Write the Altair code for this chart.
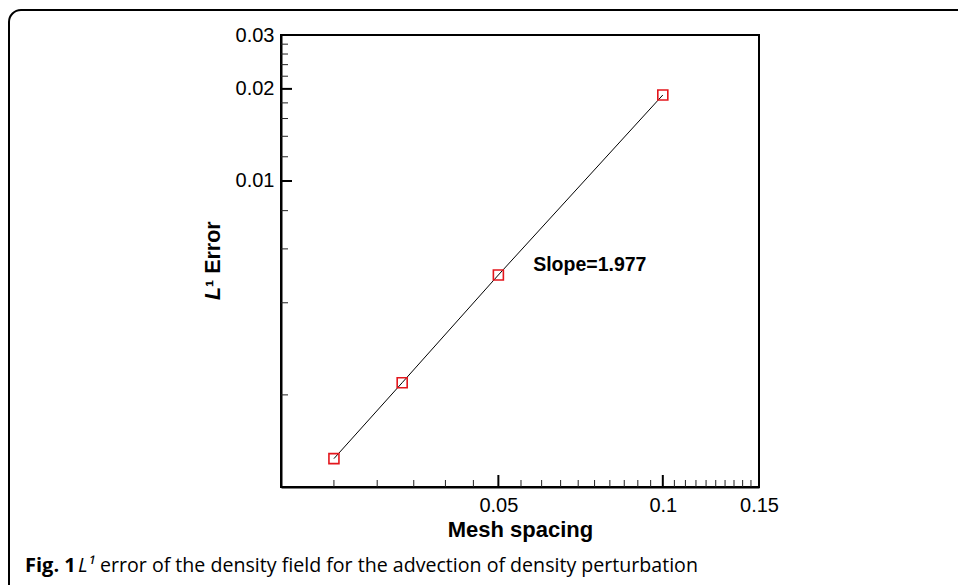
import altair as alt
import pandas as pd

# ---- data ----
mesh_spacing = [0.025, 1 / 30, 0.05, 0.1]
l1_error = [0.001238, 0.002192, 0.00493, 0.0191]

x_major_ticks = [0.05, 0.1]
x_minor_ticks = [0.025, 0.03, 0.035, 0.04, 0.045,
                 0.055, 0.06, 0.065, 0.07, 0.075, 0.08, 0.085, 0.09, 0.095,
                 0.105, 0.11, 0.115, 0.12, 0.125, 0.13, 0.135, 0.14, 0.145]
x_labels = [0.05, 0.1, 0.15]

y_major_ticks = [0.01, 0.02]
y_minor_ticks = [0.002, 0.004, 0.006, 0.008,
                 0.012, 0.014, 0.016, 0.018,
                 0.022, 0.024, 0.026, 0.028]
y_labels = [0.01, 0.02, 0.03]

slope_label = ["Slope=1.977"]
slope_pos_x = [0.0579]
slope_pos_y = [0.005315]

x_domain = [0.02, 0.15]
y_domain = [0.001, 0.03]

W, H = 478, 452
PAD_L, PAD_T, PAD_R, PAD_B = 281, 35, 199, 98

df = pd.DataFrame({"h": mesh_spacing, "err": l1_error})

xs = alt.Scale(type="log", domain=x_domain, nice=False, zero=False)
ys = alt.Scale(type="log", domain=y_domain, nice=False, zero=False)

AX_FONT = "Liberation Sans"

x_axis = alt.Axis(values=x_labels, format="~g", ticks=False, grid=False,
                  labelFlush=False, labelFont=AX_FONT, labelFontSize=20,
                  labelColor="black", labelPadding=8,
                  domainColor="black", domainWidth=2,
                  title="Mesh spacing", titleFont=AX_FONT, titleFontSize=22,
                  titleFontWeight="bold", titleColor="black", titlePadding=4)
y_axis = alt.Axis(values=y_labels, format="~g", ticks=False, grid=False,
                  labelFlush=False, labelFont=AX_FONT, labelFontSize=20,
                  labelColor="black", labelPadding=7,
                  domainColor="black", domainWidth=2, title=None)


def X(field):
    return alt.X(field, scale=xs, axis=x_axis, title="Mesh spacing")


def Y(field):
    return alt.Y(field, scale=ys, axis=y_axis, title=None)


line = alt.Chart(df).mark_line(color="black", strokeWidth=1).encode(
    x=X("h:Q"), y=Y("err:Q"))

points = alt.Chart(df).mark_point(shape="square", filled=False, color="#e3161c",
                                  strokeWidth=1.6, size=100, opacity=1).encode(
    x=X("h:Q"), y=Y("err:Q"))

xmin_df = pd.DataFrame({"t": x_minor_ticks})
xmaj_df = pd.DataFrame({"t": x_major_ticks})
ymin_df = pd.DataFrame({"t": y_minor_ticks})
ymaj_df = pd.DataFrame({"t": y_major_ticks})

x_minor = alt.Chart(xmin_df).mark_rule(color="#222", strokeWidth=1).encode(
    x=X("t:Q"), y=alt.value(H), y2=alt.value(H - 7))
x_major = alt.Chart(xmaj_df).mark_rule(color="black", strokeWidth=2).encode(
    x=X("t:Q"), y=alt.value(H), y2=alt.value(H - 12))
y_minor = alt.Chart(ymin_df).mark_rule(color="#222", strokeWidth=1).encode(
    y=Y("t:Q"), x=alt.value(0), x2=alt.value(7))
y_major = alt.Chart(ymaj_df).mark_rule(color="black", strokeWidth=2).encode(
    y=Y("t:Q"), x=alt.value(0), x2=alt.value(11))

slope_df = pd.DataFrame({"h": slope_pos_x, "err": slope_pos_y, "label": slope_label})
slope_text = alt.Chart(slope_df).mark_text(
    align="left", baseline="middle", font=AX_FONT, fontSize=19.5,
    fontWeight="bold", color="black").encode(
    x=X("h:Q"), y=Y("err:Q"), text="label:N")

one = alt.Data(values=[{}])

# y-axis title: italic L with superscript, then "Error"
ytitle_L = alt.Chart(one).mark_text(
    text="L", angle=270, align="left", baseline="middle", font=AX_FONT,
    fontSize=21.5, fontWeight="bold", fontStyle="italic", color="black").encode(
    x=alt.value(-67), y=alt.value(265))
ytitle_rest = alt.Chart(one).mark_text(
    text="¹ Error", angle=270, align="left", baseline="middle", font=AX_FONT,
    fontSize=21.5, fontWeight="bold", color="black").encode(
    x=alt.value(-67), y=alt.value(252))

# caption
CAP_FONT = "Open Sans"
cap1 = alt.Chart(one).mark_text(
    text="Fig. 1", align="left", baseline="middle", font=CAP_FONT,
    fontSize=20, fontWeight="bold", color="black").encode(
    x=alt.value(-256), y=alt.value(531))
cap2 = alt.Chart(one).mark_text(
    text="L¹", align="left", baseline="middle", font=CAP_FONT,
    fontSize=20, fontStyle="italic", color="black").encode(
    x=alt.value(-203), y=alt.value(531))
cap3 = alt.Chart(one).mark_text(
    text="error of the density field for the advection of density perturbation",
    align="left", baseline="middle", font=CAP_FONT,
    fontSize=19.6, color="black").encode(
    x=alt.value(-181), y=alt.value(531))

# outer rounded frame
frame = alt.Chart(one).mark_rect(
    fill=None, fillOpacity=0, stroke="black", strokeWidth=2, cornerRadius=12).encode(
    x=alt.value(9 - PAD_L), x2=alt.value(958 - PAD_L + 30),
    y=alt.value(10 - PAD_T), y2=alt.value(585 - PAD_T + 30))

chart = alt.layer(
    frame, line, points, x_minor, x_major, y_minor, y_major, slope_text,
    ytitle_L, ytitle_rest, cap1, cap2, cap3,
).properties(
    width=W, height=H,
    autosize=alt.AutoSizeParams(type="none"),
    padding={"left": PAD_L, "top": PAD_T, "right": PAD_R, "bottom": PAD_B},
    background="white",
).configure_view(stroke="black", strokeWidth=2)

chart.save("out.html", embed_options={"renderer": "svg", "actions": False})
